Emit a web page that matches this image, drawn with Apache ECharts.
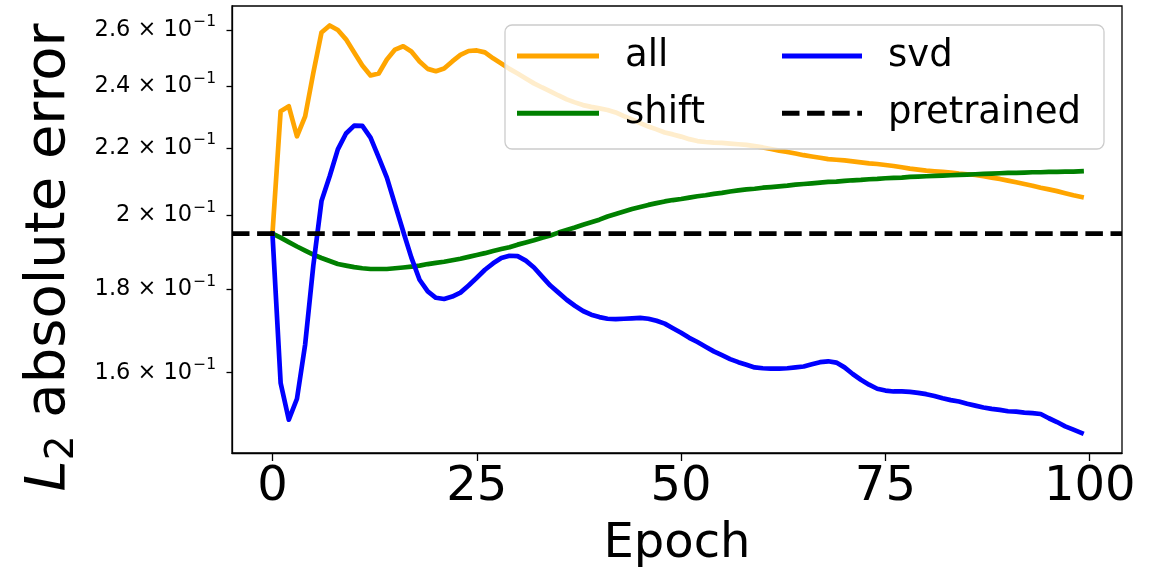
<!DOCTYPE html>
<html>
<head>
<meta charset="utf-8">
<script src="https://cdn.jsdelivr.net/npm/echarts@6/dist/echarts.min.js"></script>
<style>html,body{margin:0;padding:0;background:#fff;}#c{width:1153px;height:577px;}</style>
</head>
<body>
<div id="c"></div>
<script>
const epochs = Array.from({length: 100}, (_, i) => i);

const allValues = [
0.1948,0.2317,0.2333,0.2236,0.2300,0.2446,0.2590,0.2616,0.2599,0.2565,
0.2518,0.2472,0.2437,0.2444,0.2493,0.2528,0.2540,0.2521,0.2486,0.2460,
0.2452,0.2461,0.2486,0.2509,0.2523,0.2525,0.2518,0.2497,0.2479,0.2460,
0.2444,0.2427,0.2410,0.2396,0.2383,0.2369,0.2356,0.2346,0.2337,0.2331,
0.2326,0.2321,0.2313,0.2301,0.2290,0.2278,0.2267,0.2258,0.2248,0.2242,
0.2235,0.2227,0.2221,0.2218,0.2216,0.2215,0.2213,0.2211,0.2209,0.2205,
0.2201,0.2196,0.2191,0.2187,0.2182,0.2177,0.2173,0.2169,0.2165,0.2163,
0.2161,0.2158,0.2155,0.2152,0.2150,0.2147,0.2144,0.2140,0.2136,0.2133,
0.2130,0.2128,0.2126,0.2124,0.2121,0.2119,0.2117,0.2113,0.2109,0.2105,
0.2100,0.2095,0.2090,0.2085,0.2079,0.2074,0.2069,0.2063,0.2057,0.2052
];

const shiftValues = [
0.1948,0.1937,0.1925,0.1913,0.1902,0.1891,0.1882,0.1874,0.1866,0.1862,
0.1858,0.1855,0.1853,0.1853,0.1853,0.1855,0.1857,0.1859,0.1862,0.1866,
0.1869,0.1872,0.1876,0.1880,0.1885,0.1890,0.1895,0.1901,0.1906,0.1911,
0.1918,0.1924,0.1930,0.1937,0.1943,0.1951,0.1958,0.1965,0.1973,0.1980,
0.1987,0.1996,0.2003,0.2010,0.2017,0.2023,0.2029,0.2034,0.2039,0.2043,
0.2046,0.2050,0.2054,0.2057,0.2061,0.2064,0.2068,0.2071,0.2074,0.2076,
0.2079,0.2081,0.2083,0.2085,0.2088,0.2090,0.2092,0.2094,0.2096,0.2097,
0.2099,0.2101,0.2102,0.2104,0.2105,0.2107,0.2108,0.2109,0.2111,0.2112,
0.2113,0.2114,0.2115,0.2116,0.2117,0.2118,0.2119,0.2120,0.2121,0.2122,
0.2123,0.2123,0.2124,0.2125,0.2125,0.2126,0.2126,0.2127,0.2127,0.2128
];

const svdValues = [
0.1948,0.1577,0.1497,0.1542,0.1665,0.1862,0.2040,0.2113,0.2195,0.2245,
0.2270,0.2269,0.2232,0.2170,0.2109,0.2030,0.1954,0.1883,0.1825,0.1795,
0.1779,0.1776,0.1782,0.1792,0.1810,0.1830,0.1851,0.1868,0.1882,0.1888,
0.1887,0.1875,0.1857,0.1833,0.1810,0.1792,0.1774,0.1759,0.1746,0.1737,
0.1731,0.1727,0.1726,0.1727,0.1728,0.1729,0.1727,0.1722,0.1715,0.1704,
0.1693,0.1681,0.1671,0.1660,0.1649,0.1640,0.1631,0.1624,0.1618,0.1612,
0.1610,0.1609,0.1609,0.1610,0.1612,0.1614,0.1619,0.1624,0.1626,0.1623,
0.1612,0.1597,0.1584,0.1573,0.1564,0.1560,0.1558,0.1558,0.1557,0.1555,
0.1552,0.1548,0.1543,0.1539,0.1536,0.1531,0.1527,0.1523,0.1520,0.1518,
0.1515,0.1514,0.1512,0.1511,0.1509,0.1500,0.1492,0.1483,0.1476,0.1469
];

const pretrainedValue = 0.1948;

const xTickValues = [0, 25, 50, 75, 100];
const yTickValues = [0.16, 0.18, 0.20, 0.22, 0.24, 0.26];
const xRange = [-4.95, 103.95];
const yRange = [0.1428, 0.2689];

const FONT = 'DejaVu Sans';
const pair = vals => epochs.map((e, i) => [e, vals[i]]);
const dashIcon = 'path://M0,0h17.5v5h-17.5z M25.1,0h17.5v5h-17.5z M50.2,0h17.5v5h-17.5z M75.3,0h4.7v5h-4.7z';

const chart = echarts.init(document.getElementById('c'), null, {renderer: 'canvas'});
const lineW = 4.7;
const option = {
  animation: false,
  backgroundColor: '#ffffff',
  grid: {left: 232, right: 31, top: 6, bottom: 124, show: true, borderColor: '#000', borderWidth: 1.3,
         backgroundColor: 'transparent', containLabel: false, outerBoundsMode: 'none'},
  xAxis: {
    type: 'value', min: xRange[0], max: xRange[1],
    name: 'Epoch', nameLocation: 'middle', nameGap: 68,
    nameTextStyle: {fontFamily: FONT, fontSize: 48, color: '#000'},
    axisLine: {show: true, onZero: false, lineStyle: {color: '#000', width: 1.3}},
    axisTick: {show: true, length: 8, lineStyle: {color: '#000', width: 1.3}, customValues: xTickValues},
    axisLabel: {fontFamily: FONT, fontSize: 48, color: '#000', margin: 11, customValues: xTickValues},
    splitLine: {show: false}
  },
  yAxis: {
    type: 'log', logBase: 10, min: yRange[0], max: yRange[1],
    name: '{l|L}{s|2} absolute error', nameLocation: 'middle', nameGap: 150, nameRotate: 90,
    nameTextStyle: {
      fontFamily: FONT, fontSize: 56, color: '#000', lineHeight: 66, padding: [0, 56, 0, 0],
      rich: {
        l: {fontFamily: FONT, fontSize: 56, fontStyle: 'italic', lineHeight: 66, color: '#000'},
        s: {fontFamily: FONT, fontSize: 39, lineHeight: 39, verticalAlign: 'bottom', color: '#000'}
      }
    },
    axisLine: {show: true, onZero: false, lineStyle: {color: '#000', width: 1.3}},
    axisTick: {show: true, length: 5.5, lineStyle: {color: '#000', width: 1.3}, customValues: yTickValues},
    axisLabel: {
      margin: 16, customValues: yTickValues,
      formatter: v => '{n|' + String(Math.round(v * 100) / 10) + ' \u00d7 10}{s|\u22121}',
      rich: {
        n: {fontFamily: FONT, fontSize: 22.5, lineHeight: 31, color: '#000'},
        s: {fontFamily: FONT, fontSize: 15.5, lineHeight: 15.5, verticalAlign: 'top', color: '#000', padding: [0, 0, 0, 1]}
      }
    },
    splitLine: {show: false},
    minorTick: {show: false}
  },
  legend: [
    {
      data: [{name: 'all', icon: 'rect'}, {name: 'shift', icon: 'rect'}],
      orient: 'vertical', left: 517, top: 36, padding: 0, itemGap: 17.3,
      itemWidth: 82, itemHeight: 5, selectedMode: false, z: 5,
      textStyle: {fontFamily: FONT, fontSize: 37, color: '#000', lineHeight: 40, padding: [0, 0, 0, 21]}
    },
    {
      data: [{name: 'svd', icon: 'rect'}, {name: 'pretrained', icon: dashIcon}],
      orient: 'vertical', left: 782, top: 36, padding: 0, itemGap: 17.3,
      itemWidth: 80, itemHeight: 5, selectedMode: false, z: 5,
      textStyle: {fontFamily: FONT, fontSize: 37, color: '#000', lineHeight: 40, padding: [0, 0, 0, 21]}
    }
  ],
  graphic: [{
    type: 'rect', z: 3,
    shape: {x: 505, y: 25, width: 599, height: 124, r: 7},
    style: {fill: 'rgba(255,255,255,0.8)', stroke: '#cccccc', lineWidth: 1.3}
  }],
  series: [
    {name: 'all', type: 'line', data: pair(allValues), showSymbol: false, symbol: 'none', color: '#FFA500',
     lineStyle: {width: lineW, color: '#FFA500', cap: 'square', join: 'round'}, z: 2},
    {name: 'shift', type: 'line', data: pair(shiftValues), showSymbol: false, symbol: 'none', color: '#008000',
     lineStyle: {width: lineW, color: '#008000', cap: 'square', join: 'round'}, z: 2},
    {name: 'svd', type: 'line', data: pair(svdValues), showSymbol: false, symbol: 'none', color: '#0000FF',
     lineStyle: {width: lineW, color: '#0000FF', cap: 'square', join: 'round'}, z: 2},
    {name: 'pretrained', type: 'line', data: [[xRange[0], pretrainedValue], [xRange[1], pretrainedValue]],
     showSymbol: false, symbol: 'none', color: '#000000',
     lineStyle: {width: lineW, color: '#000000', type: [17.5, 7.6], cap: 'butt'}, z: 2}
  ]
};
chart.setOption(option);
</script>
</body>
</html>
